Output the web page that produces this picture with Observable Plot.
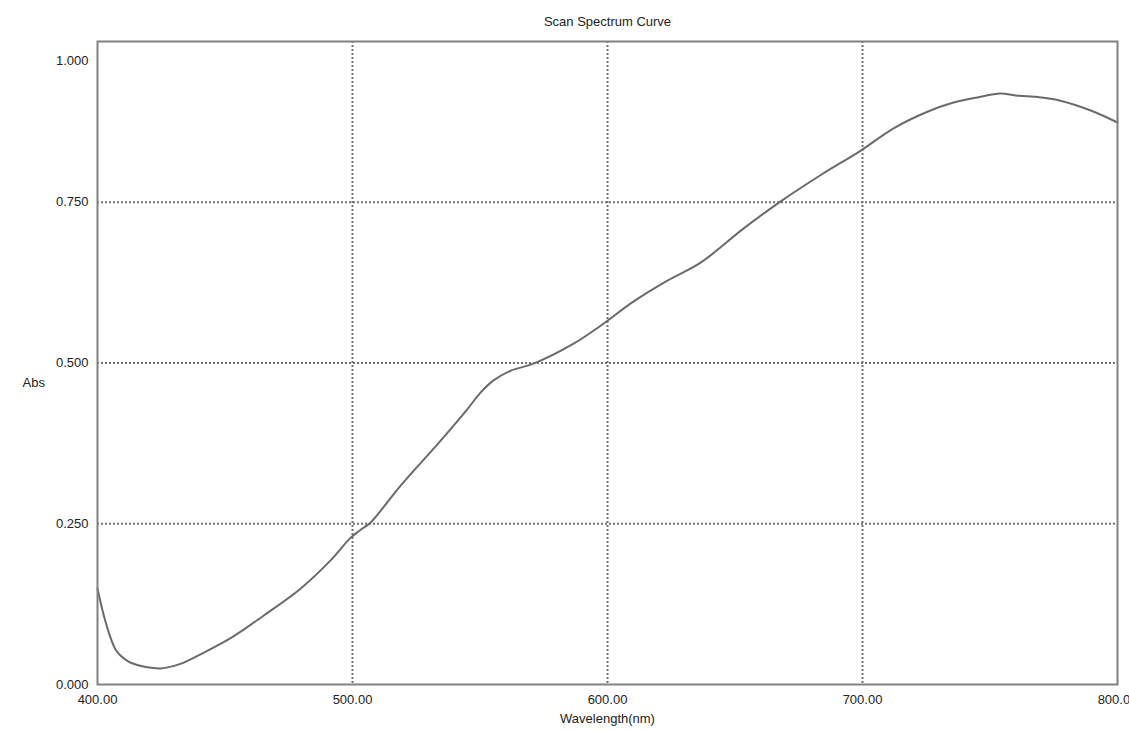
<!DOCTYPE html>
<html>
<head>
<meta charset="utf-8">
<script src="https://cdn.jsdelivr.net/npm/d3@7"></script>
<script src="https://cdn.jsdelivr.net/npm/@observablehq/plot@0.6"></script>
<style>
  html, body { margin: 0; padding: 0; background: #fff; }
  #chart svg { display: block; }
</style>
</head>
<body>
<div id="chart"></div>
<script>
const title = "Scan Spectrum Curve";
const xLabel = "Wavelength(nm)";
const yLabel = "Abs";

const wavelength = [400, 402.5, 405, 407, 409, 412, 415, 418, 421, 424.5, 428, 432.5, 440.4, 452.2, 465.1, 479.6, 491.4, 499.2, 503, 507.1, 518.8, 534.5, 545, 550.2, 555.3, 562, 571, 586.7, 597.3, 610, 623.5, 636.5, 653.3, 667.8, 683.5, 699.2, 712.2, 725, 735.7, 745, 754.1, 760, 769.8, 777.6, 790, 800];
const absorbance = [0.149, 0.107, 0.074, 0.055, 0.045, 0.036, 0.031, 0.028, 0.026, 0.025, 0.027, 0.032, 0.047, 0.072, 0.107, 0.149, 0.193, 0.228, 0.240, 0.252, 0.309, 0.379, 0.428, 0.454, 0.473, 0.488, 0.499, 0.530, 0.558, 0.595, 0.628, 0.656, 0.709, 0.751, 0.792, 0.830, 0.865, 0.890, 0.905, 0.913, 0.919, 0.916, 0.913, 0.908, 0.892, 0.874];

const xTicks = [400, 500, 600, 700, 800];
const yTicks = [0, 0.25, 0.5, 0.75];
const yTopTick = [1];
const xGrid = [500, 600, 700];
const yGrid = [0.25, 0.5, 0.75];

const data = wavelength.map((w, i) => ({w, a: absorbance[i]}));

const chart = Plot.plot({
  width: 1129,
  height: 730,
  marginLeft: 97,
  marginRight: 12,
  marginTop: 41,
  marginBottom: 46,
  style: {fontFamily: "'Liberation Sans', Arial, sans-serif", fontSize: "13px", color: "#222", background: "#fff", overflow: "visible"},
  x: {domain: [400, 800]},
  y: {domain: [0, 1]},
  marks: [
    Plot.gridX(xGrid, {stroke: "#707070", strokeOpacity: 1, strokeWidth: 2, strokeDasharray: "2,2"}),
    Plot.gridY(yGrid, {stroke: "#707070", strokeOpacity: 1, strokeWidth: 2, strokeDasharray: "2,2"}),
    Plot.line(data, {x: "w", y: "a", curve: "catmull-rom", stroke: "#6a6a6a", strokeWidth: 2}),
    Plot.frame({stroke: "#808080", strokeWidth: 2}),
    Plot.axisX(xTicks, {tickSize: 0, tickPadding: 10, tickFormat: d3.format(".2f"), label: null, fill: "#222"}),
    Plot.axisY(yTicks, {tickSize: 0, tickPadding: 9, tickFormat: d3.format(".3f"), label: null, fill: "#222"}),
    Plot.axisY(yTopTick, {tickSize: 0, tickPadding: 9, tickFormat: d3.format(".3f"), label: null, dy: 19, fill: "#222"}),
    Plot.text([title], {frameAnchor: "top", lineAnchor: "middle", dy: -20, fontSize: 13, fill: "#222"}),
    Plot.text([xLabel], {frameAnchor: "bottom", lineAnchor: "middle", dy: 34, fontSize: 13, fill: "#222"}),
    Plot.text([yLabel], {frameAnchor: "left", dx: -75, dy: 20, fontSize: 13, fill: "#222"})
  ]
});
document.getElementById("chart").appendChild(chart);
</script>
</body>
</html>
